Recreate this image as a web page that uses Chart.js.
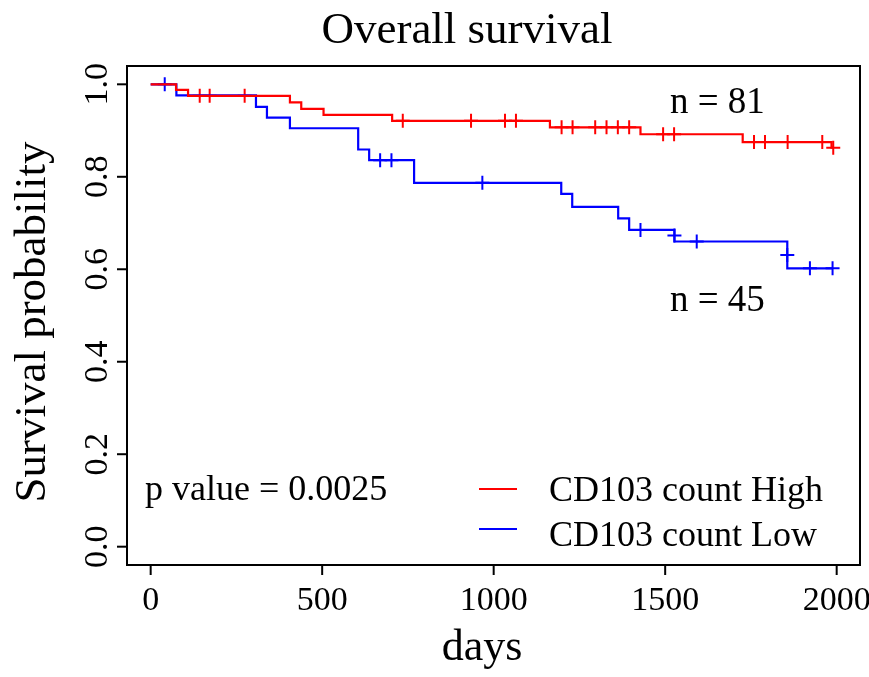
<!DOCTYPE html>
<html>
<head>
<meta charset="utf-8">
<script src="https://cdn.jsdelivr.net/npm/chart.js@4.4.7/dist/chart.umd.min.js"></script>
<style>
  html, body { margin: 0; padding: 0; background: #fff; }
</style>
</head>
<body>
<canvas id="km" width="869" height="677"></canvas>
<script>
// Kaplan-Meier steps: day of each event and survival after it
const highDays = [0, 74, 109, 406, 439, 504, 704, 1164, 1428, 1726, 1985, 1990];
const highSurv = [1.0, 0.988, 0.975, 0.961, 0.947, 0.934, 0.921, 0.907, 0.892, 0.875, 0.863, 0.863];
const lowDays = [0, 75, 307, 339, 406, 605, 637, 768, 1197, 1229, 1363, 1395, 1527, 1856, 1988];
const lowSurv = [1.0, 0.976, 0.951, 0.928, 0.905, 0.859, 0.836, 0.787, 0.763, 0.735, 0.710, 0.685, 0.660, 0.602, 0.602];

// censored observations
const highCensorDays = [143, 172, 274, 735, 934, 1033, 1065, 1198, 1230, 1296, 1329, 1362, 1395, 1494, 1526, 1759, 1791, 1857, 1958, 1990];
const highCensorSurv = [0.975, 0.975, 0.975, 0.921, 0.921, 0.921, 0.921, 0.907, 0.907, 0.907, 0.907, 0.907, 0.907, 0.892, 0.892, 0.875, 0.875, 0.875, 0.875, 0.863];
const lowCensorDays = [41, 669, 702, 967, 1428, 1527, 1592, 1856, 1922, 1988];
const lowCensorSurv = [1.0, 0.836, 0.836, 0.787, 0.685, 0.673, 0.660, 0.631, 0.602, 0.602];

const xTicks = [0, 500, 1000, 1500, 2000];
const xTickLabels = ['0', '500', '1000', '1500', '2000'];
const yTicks = [0, 0.2, 0.4, 0.6, 0.8, 1.0];
const yTickLabels = ['0.0', '0.2', '0.4', '0.6', '0.8', '1.0'];

const seriesNames = ['CD103 count High', 'CD103 count Low'];
const groupSizes = ['n = 81', 'n = 45'];
const pValueText = 'p value = 0.0025';

const RED = '#ff0000';
const BLUE = '#0000ff';
const SERIF = '"Liberation Serif", "DejaVu Serif", serif';

function toPoints(xs, ys) {
  return xs.map((x, i) => ({ x: x, y: ys[i] }));
}

// box, axes, tick labels and annotations in base-R style
const rDecorations = {
  id: 'rDecorations',
  afterDraw(chart) {
    const ctx = chart.ctx;
    const a = chart.chartArea;
    const xs = chart.scales.x;
    const ys = chart.scales.y;
    ctx.save();
    ctx.strokeStyle = '#000';
    ctx.lineWidth = 2;
    ctx.strokeRect(a.left, a.top, a.right - a.left, a.bottom - a.top);

    ctx.fillStyle = '#000';
    ctx.font = '34px ' + SERIF;

    // x axis ticks
    ctx.textAlign = 'center';
    ctx.textBaseline = 'alphabetic';
    xTicks.forEach((v, i) => {
      const px = xs.getPixelForValue(v);
      ctx.beginPath();
      ctx.moveTo(px, a.bottom);
      ctx.lineTo(px, a.bottom + 10);
      ctx.stroke();
      ctx.fillText(xTickLabels[i], px, 610);
    });

    // y axis ticks, labels turned parallel to the axis
    yTicks.forEach((v, i) => {
      const py = ys.getPixelForValue(v);
      ctx.beginPath();
      ctx.moveTo(a.left, py);
      ctx.lineTo(a.left - 10, py);
      ctx.stroke();
      ctx.save();
      ctx.translate(107, py);
      ctx.rotate(-Math.PI / 2);
      ctx.fillText(yTickLabels[i], 0, 0);
      ctx.restore();
    });

    // titles
    ctx.font = '45px ' + SERIF;
    ctx.fillText('Overall survival', 467, 43);
    ctx.font = '44px ' + SERIF;
    ctx.fillText('days', 482, 660);
    ctx.save();
    ctx.translate(45, 322);
    ctx.rotate(-Math.PI / 2);
    ctx.font = '45px ' + SERIF;
    ctx.fillText('Survival probability', 0, 0);
    ctx.restore();

    // group sizes and p value
    ctx.font = '37px ' + SERIF;
    ctx.textAlign = 'left';
    ctx.fillText(groupSizes[0], 670, 113);
    ctx.fillText(groupSizes[1], 670, 311);
    ctx.font = '36px ' + SERIF;
    ctx.fillText(pValueText, 145, 500);

    // legend
    const legendLineY = [489, 529];
    const legendTextY = [501, 546];
    const legendColors = [RED, BLUE];
    seriesNames.forEach((name, i) => {
      ctx.strokeStyle = legendColors[i];
      ctx.lineWidth = 2;
      ctx.beginPath();
      ctx.moveTo(479, legendLineY[i]);
      ctx.lineTo(517, legendLineY[i]);
      ctx.stroke();
      ctx.fillText(name, 549, legendTextY[i]);
    });
    ctx.restore();
  }
};

new Chart(document.getElementById('km'), {
  type: 'line',
  data: {
    datasets: [
      {
        label: seriesNames[0],
        data: toPoints(highDays, highSurv),
        borderColor: RED,
        borderWidth: 2.2,
        stepped: 'before',
        pointRadius: 0,
        fill: false
      },
      {
        label: seriesNames[1],
        data: toPoints(lowDays, lowSurv),
        borderColor: BLUE,
        borderWidth: 2.2,
        stepped: 'before',
        pointRadius: 0,
        fill: false
      },
      {
        type: 'scatter',
        label: seriesNames[0] + ' censored',
        data: toPoints(highCensorDays, highCensorSurv),
        pointStyle: 'cross',
        pointRadius: 7,
        borderColor: RED,
        borderWidth: 2,
        showLine: false
      },
      {
        type: 'scatter',
        label: seriesNames[1] + ' censored',
        data: toPoints(lowCensorDays, lowCensorSurv),
        pointStyle: 'cross',
        pointRadius: 7,
        borderColor: BLUE,
        borderWidth: 2,
        showLine: false
      }
    ]
  },
  options: {
    responsive: false,
    animation: false,
    layout: { padding: { left: 127, top: 66, right: 9, bottom: 112 } },
    plugins: {
      legend: { display: false },
      title: { display: false },
      tooltip: { enabled: false }
    },
    scales: {
      x: { type: 'linear', min: -69, max: 2068, display: false },
      y: { type: 'linear', min: -0.0396, max: 1.0396, display: false }
    }
  },
  plugins: [rDecorations]
});
</script>
</body>
</html>
